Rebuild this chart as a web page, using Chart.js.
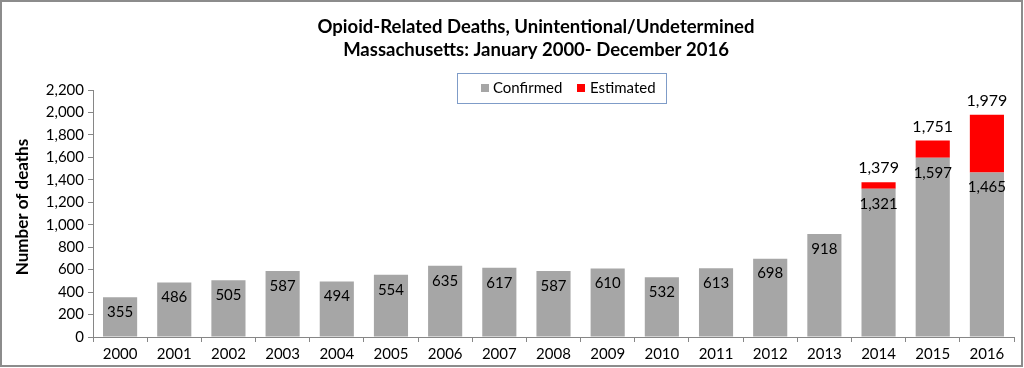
<!DOCTYPE html>
<html><head><meta charset="utf-8">
<script src="https://cdn.jsdelivr.net/npm/chart.js@4/dist/chart.umd.min.js"></script>
<style>html,body{margin:0;padding:0;background:#fff}#wrap{width:1024px;height:368px;position:relative}</style>
</head><body><div id="wrap"><canvas id="c" width="1024" height="368"></canvas></div>
<script>
const years = ['2000','2001','2002','2003','2004','2005','2006','2007','2008','2009','2010','2011','2012','2013','2014','2015','2016'];
const confirmed = [355,486,505,587,494,554,635,617,587,610,532,613,698,918,1321,1597,1465];
const estimated = [0,0,0,0,0,0,0,0,0,0,0,0,0,0,58,154,514];
const totals = [null,null,null,null,null,null,null,null,null,null,null,null,null,null,1379,1751,1979];
const yTicks = [0,200,400,600,800,1000,1200,1400,1600,1800,2000,2200];
const titleLines = ['Opioid-Related Deaths, Unintentional/Undetermined','Massachusetts: January 2000- December 2016'];
const yTitle = 'Number of deaths';

const FONT = 'Lato, "Open Sans", sans-serif';
const fmt = v => Number(v).toLocaleString('en-US');

const deco = {
  id: 'deco',
  afterDraw(chart) {
    const ctx = chart.ctx;
    ctx.save();
    ctx.strokeStyle = '#8c8c8c'; ctx.lineWidth = 2;
    ctx.strokeRect(1, 1, 1021, 365);
    ctx.fillStyle = '#000'; ctx.textAlign = 'center'; ctx.textBaseline = 'middle';
    ctx.font = 'bold 18.5px ' + FONT;
    ctx.fillText(titleLines[0], 536, 27);
    ctx.fillText(titleLines[1], 536, 50);
    ctx.strokeStyle = '#7f9cc8'; ctx.lineWidth = 1;
    ctx.strokeRect(457.5, 73.5, 209, 30);
    ctx.font = '15px ' + FONT; ctx.textAlign = 'left';
    const ds = chart.data.datasets;
    ctx.fillStyle = ds[0].backgroundColor; ctx.fillRect(481, 84, 8, 8);
    ctx.fillStyle = '#000'; ctx.fillText(ds[0].label, 493, 88.5);
    ctx.fillStyle = ds[1].backgroundColor; ctx.fillRect(577, 84, 8, 8);
    ctx.fillStyle = '#000'; ctx.fillText(ds[1].label, 590, 88.5);
    ctx.save();
    ctx.translate(23, 207); ctx.rotate(-Math.PI/2);
    ctx.textAlign = 'center'; ctx.font = 'bold 17px ' + FONT;
    ctx.fillText(yTitle, 0, 0);
    ctx.restore();
    const meta0 = chart.getDatasetMeta(0);
    const meta1 = chart.getDatasetMeta(1);
    ctx.font = '15px ' + FONT; ctx.textAlign = 'center'; ctx.fillStyle = '#000';
    meta0.data.forEach((bar, i) => {
      ctx.fillText(fmt(confirmed[i]), bar.x, bar.y + 15);
    });
    ctx.font = '16px ' + FONT;
    meta1.data.forEach((bar, i) => {
      if (totals[i] != null) ctx.fillText(fmt(totals[i]), bar.x, bar.y - 14);
    });
    ctx.restore();
  }
};

new Chart(document.getElementById('c'), {
  type: 'bar',
  data: {
    labels: years,
    datasets: [
      { label: 'Confirmed', data: confirmed, backgroundColor: '#a6a6a6', barPercentage: 0.63, categoryPercentage: 1 },
      { label: 'Estimated', data: estimated, backgroundColor: '#ff0000', barPercentage: 0.63, categoryPercentage: 1 }
    ]
  },
  options: {
    responsive: false, animation: false,
    layout: { padding: { left: 0, right: 10, top: 90, bottom: 0 } },
    plugins: { legend: { display: false }, title: { display: false }, tooltip: { enabled: false } },
    scales: {
      x: {
        stacked: true,
        grid: { offset: true, drawOnChartArea: false, drawTicks: true, tickLength: 5, color: '#868686' },
        border: { color: '#868686' },
        ticks: { color: '#000', font: { family: FONT, size: 15 }, padding: 3 },
        afterFit(s) { s.height = 31; }
      },
      y: {
        stacked: true, min: 0, max: 2200,
        afterBuildTicks(s) { s.ticks = yTicks.map(v => ({ value: v })); },
        grid: { drawOnChartArea: false, drawTicks: true, tickLength: 5, color: '#868686' },
        border: { color: '#868686' },
        ticks: { color: '#000', font: { family: FONT, size: 15 }, padding: 4, callback: v => fmt(v) },
        afterFit(s) { s.width = 93; }
      }
    }
  },
  plugins: [deco]
});
</script></body></html>
